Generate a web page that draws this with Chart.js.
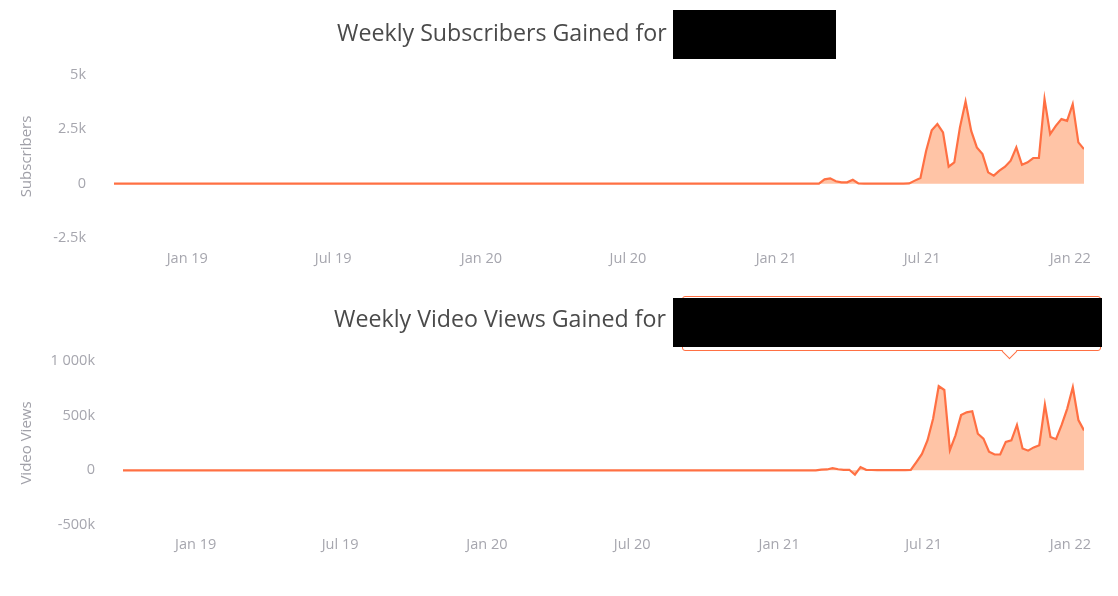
<!DOCTYPE html>
<html>
<head>
<meta charset="utf-8">
<script src="https://cdn.jsdelivr.net/npm/chart.js@4"></script>
<style>
  body { margin: 0; background: #fff; width: 1118px; height: 596px; position: relative; overflow: hidden; }
  canvas { position: absolute; left: 0; }
  #subsChart { top: 0; }
  #viewsChart { top: 285px; }
  .title { position: absolute; font-family: "Open Sans", sans-serif; font-size: 23.2px; color: #4a4a4a; white-space: nowrap; line-height: normal; }
  .redact { position: absolute; background: #000; }
  .tip { position: absolute; border: 1.5px solid #ff7043; border-radius: 3px; background: #fff; }
  .tip-arrow { position: absolute; width: 10px; height: 10px; background: #fff; border-right: 1.5px solid #ff7043; border-bottom: 1.5px solid #ff7043; transform: rotate(45deg); }
</style>
</head>
<body>
<canvas id="subsChart" width="1118" height="285"></canvas>
<canvas id="viewsChart" width="1118" height="311"></canvas>

<div class="title" style="left:337px; top:15.8px;">Weekly Subscribers Gained for</div>
<div class="redact" style="left:673px; top:10px; width:163px; height:49px;"></div>

<div class="title" style="left:334px; top:302px;">Weekly Video Views Gained for</div>
<div class="tip" style="left:682px; top:296px; width:417px; height:53px;"></div>
<div class="tip-arrow" style="left:1004px; top:346px;"></div>
<div class="redact" style="left:673px; top:298px; width:429px; height:49px;"></div>

<script>
// weekly series, first week starts 2018-10-02, one value per week (173 weeks)
const startDate = '2018-10-02';

const subscribers = [
  0, 0, 0, 0, 0, 0, 0, 0, 0, 0, 0, 0, 0, 0, 0, 0, 0, 0, 0, 0, 0, 0, 0, 0, 0,
  0, 0, 0, 0, 0, 0, 0, 0, 0, 0, 0, 0, 0, 0, 0, 0, 0, 0, 0, 0, 0, 0, 0, 0, 0,
  0, 0, 0, 0, 0, 0, 0, 0, 0, 0, 0, 0, 0, 0, 0, 0, 0, 0, 0, 0, 0, 0, 0, 0, 0,
  0, 0, 0, 0, 0, 0, 0, 0, 0, 0, 0, 0, 0, 0, 0, 0, 0, 0, 0, 0, 0, 0, 0, 0, 0,
  0, 0, 0, 0, 0, 0, 0, 0, 0, 0, 0, 0, 0, 0, 0, 0, 0, 0, 0, 0, 0, 0, 0, 0, 0,
  0, 200, 245, 110, 60, 60, 180, 10, 0, 0, 0, 0, 0, 0, 0, 0,
  10, 140, 260, 1500, 2460, 2740, 2360, 780, 980, 2590, 3780, 2430, 1670, 1360, 520, 370,
  600, 780, 1060, 1670, 870, 980, 1180, 1180, 3890, 2280, 2660, 2970, 2890, 3660, 1900, 1590
];

const videoViews = [
  0, 0, 0, 0, 0, 0, 0, 0, 0, 0, 0, 0, 0, 0, 0, 0, 0, 0, 0, 0, 0, 0, 0, 0, 0,
  0, 0, 0, 0, 0, 0, 0, 0, 0, 0, 0, 0, 0, 0, 0, 0, 0, 0, 0, 0, 0, 0, 0, 0, 0,
  0, 0, 0, 0, 0, 0, 0, 0, 0, 0, 0, 0, 0, 0, 0, 0, 0, 0, 0, 0, 0, 0, 0, 0, 0,
  0, 0, 0, 0, 0, 0, 0, 0, 0, 0, 0, 0, 0, 0, 0, 0, 0, 0, 0, 0, 0, 0, 0, 0, 0,
  0, 0, 0, 0, 0, 0, 0, 0, 0, 0, 0, 0, 0, 0, 0, 0, 0, 0, 0, 0, 0, 0, 0, 0, 0,
  6000, 8000, 20000, 10000, 5000, 5000, -40000, 30000, 5000, 3000, 2000, 2000, 2000, 2000, 2000, 2000,
  3000, 75000, 150000, 275000, 475000, 770000, 735000, 185000, 320000, 505000, 530000, 540000, 335000, 290000, 170000, 145000,
  145000, 260000, 275000, 415000, 200000, 180000, 210000, 230000, 600000, 305000, 285000, 415000, 565000, 760000, 460000, 365000
];

const xTickDates = ['2019-01-01', '2019-07-01', '2020-01-01', '2020-07-01', '2021-01-01', '2021-07-01', '2022-01-01'];
const xTickLabels = ['Jan 19', 'Jul 19', 'Jan 20', 'Jul 20', 'Jan 21', 'Jul 21', 'Jan 22'];

const subsTickValues = [-2500, 0, 2500, 5000];
const subsTickLabels = ['-2.5k', '0', '2.5k', '5k'];
const viewsTickValues = [-500000, 0, 500000, 1000000];
const viewsTickLabels = ['-500k', '0', '500k', '1 000k'];

const WEEK = 7 * 24 * 3600 * 1000;
const weekOf = d => (Date.parse(d) - Date.parse(startDate)) / WEEK;

const lineColor = '#ff7043';
const fillColor = '#ffc4a6';
const labelColor = '#a6a6ae';

function makeChart(id, values, tickValues, tickLabels, yTitle, box) {
  const pts = values.map((v, i) => ({ x: i, y: v }));
  return new Chart(document.getElementById(id), {
    type: 'line',
    data: {
      datasets: [{
        data: pts,
        borderColor: lineColor,
        backgroundColor: fillColor,
        borderWidth: 2.2,
        fill: 'origin',
        pointRadius: 0,
        tension: 0
      }]
    },
    options: {
      responsive: false,
      animation: false,
      layout: { padding: { top: box.top, right: box.right, left: 0, bottom: 0 } },
      plugins: { legend: { display: false }, tooltip: { enabled: false } },
      scales: {
        x: {
          type: 'linear',
          min: 0,
          max: values.length - 1,
          grid: { display: false, drawTicks: false },
          border: { display: false },
          afterFit: s => { s.height = box.xh; },
          afterBuildTicks: s => { s.ticks = xTickDates.map(d => ({ value: weekOf(d) })); },
          ticks: {
            padding: box.xpad,
            color: labelColor,
            font: { family: 'Open Sans', size: 14.5 },
            maxRotation: 0,
            autoSkip: false,
            callback: (v, i) => xTickLabels[i]
          }
        },
        y: {
          min: tickValues[0],
          max: tickValues[tickValues.length - 1],
          grid: { display: false, drawTicks: false },
          border: { display: false },
          afterFit: s => { s.width = box.left; },
          afterBuildTicks: s => { s.ticks = tickValues.map(v => ({ value: v })); },
          ticks: {
            padding: box.left - box.labelRight,
            color: labelColor,
            font: { family: 'Open Sans', size: 14.5 },
            callback: v => tickLabels[tickValues.indexOf(v)]
          },
          title: {
            display: true,
            text: yTitle,
            color: '#a0a0a8',
            font: { family: 'Open Sans', size: 15 },
            padding: { top: 18, bottom: 0 }
          }
        }
      }
    }
  });
}

makeChart('subsChart', subscribers, subsTickValues, subsTickLabels, 'Subscribers',
  { top: 75, right: 34, left: 114, labelRight: 86, xh: 47, xpad: 12 });
makeChart('viewsChart', videoViews, viewsTickValues, viewsTickLabels, 'Video Views',
  { top: 76, right: 34, left: 123, labelRight: 95, xh: 71, xpad: 11 });
</script>
</body>
</html>
